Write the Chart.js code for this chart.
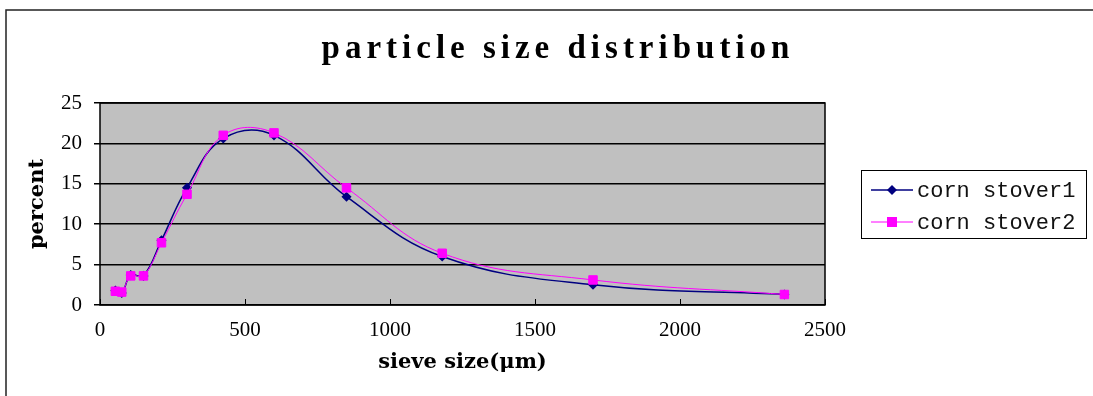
<!DOCTYPE html>
<html>
<head>
<meta charset="utf-8">
<script src="https://cdn.jsdelivr.net/npm/chart.js@4.4.1/dist/chart.umd.min.js"></script>
<style>
  html, body { margin: 0; padding: 0; background: #fff; }
  #wrap { width: 1093px; height: 396px; position: relative; }
</style>
</head>
<body>
<div id="wrap"><canvas id="psd"></canvas></div>
<script>
// ================= DATA =================
const chartTitle = "particle size distribution";
const xTitle = "sieve size(\u03bcm)";
const yTitle = "percent";

const sieveSize = [53, 75, 106, 150, 212, 300, 425, 600, 850, 1180, 1700, 2360];
const stover1 = [1.8, 1.5, 3.7, 3.6, 8.0, 14.5, 20.6, 21.0, 13.4, 6.0, 2.5, 1.3];
const stover2 = [1.7, 1.6, 3.6, 3.6, 7.7, 13.7, 21.0, 21.3, 14.5, 6.4, 3.1, 1.3];

const seriesNames = ["corn stover1", "corn stover2"];
const xTicks = [0, 500, 1000, 1500, 2000, 2500];
const yTicks = [0, 5, 10, 15, 20, 25];

const tickFont = { family: "Liberation Serif", size: 21 };
const axisTitleFont = { family: "DejaVu Serif", size: 21, weight: "bold" };


// ================= FRAME + PLOT BACKGROUND =================
const framePlugin = {
  id: "frame",
  beforeDraw(chart) {
    const { ctx, chartArea: a } = chart;
    ctx.save();
    ctx.fillStyle = "#fff";
    ctx.fillRect(0, 0, chart.width, chart.height);
    ctx.strokeStyle = "#222";
    ctx.lineWidth = 1.5;
    ctx.strokeRect(6, 10, chart.width + 10, chart.height + 10);
    ctx.fillStyle = "#c0c0c0";
    ctx.fillRect(a.left, a.top, a.right - a.left, a.bottom - a.top);
    ctx.restore();
  },
  afterDatasetsDraw(chart) {
    const { ctx, chartArea: a, scales } = chart;
    ctx.save();
    ctx.strokeStyle = "#000";
    ctx.lineWidth = 1.5;
    ctx.strokeRect(a.left, a.top, a.right - a.left, a.bottom - a.top);
    // small inward ticks on the x axis
    ctx.lineWidth = 1;
    xTicks.forEach(v => {
      const x = Math.round(scales.x.getPixelForValue(v)) + 0.5;
      ctx.beginPath();
      ctx.moveTo(x, a.bottom);
      ctx.lineTo(x, a.bottom - 6);
      ctx.stroke();
    });
    ctx.restore();
  }
};


// ================= TITLE =================
const titlePlugin = {
  id: "bigTitle",
  afterDraw(chart) {
    const { ctx } = chart;
    ctx.save();
    ctx.font = "bold 33px 'Liberation Serif'";
    ctx.letterSpacing = "5px";
    ctx.fillStyle = "#000";
    ctx.textAlign = "center";
    ctx.textBaseline = "middle";
    ctx.fillText(chartTitle, 558, 49);
    ctx.restore();
  }
};


// ================= LEGEND BOX =================
const legendPlugin = {
  id: "boxLegend",
  afterDraw(chart) {
    const { ctx } = chart;
    const box = { x: 861.5, y: 170.5, w: 225, h: 68 };
    ctx.save();
    ctx.fillStyle = "#fff";
    ctx.fillRect(box.x, box.y, box.w, box.h);
    ctx.strokeStyle = "#000";
    ctx.lineWidth = 1;
    ctx.strokeRect(box.x, box.y, box.w, box.h);

    ctx.font = "22px 'Liberation Mono'";
    ctx.textBaseline = "middle";
    chart.data.datasets.forEach((ds, i) => {
      const y = 190 + i * 32;
      ctx.strokeStyle = ds.borderColor;
      ctx.lineWidth = ds.borderWidth;
      ctx.beginPath();
      ctx.moveTo(871, y);
      ctx.lineTo(913, y);
      ctx.stroke();
      ctx.fillStyle = ds.pointBackgroundColor;
      if (ds.pointStyle === "rect") {
        ctx.fillRect(887, y - 5, 10, 10);
      } else {
        ctx.beginPath();
        ctx.moveTo(892, y - 5);
        ctx.lineTo(897, y);
        ctx.lineTo(892, y + 5);
        ctx.lineTo(887, y);
        ctx.closePath();
        ctx.fill();
      }
      ctx.fillStyle = "#111";
      ctx.fillText(ds.label, 917, y + 1);
    });
    ctx.restore();
  }
};


// ================= CHART =================
const points = (ys) => sieveSize.map((x, i) => ({ x, y: ys[i] }));

new Chart(document.getElementById("psd"), {
  type: "line",
  data: {
    datasets: [
      {
        label: seriesNames[0],
        data: points(stover1),
        borderColor: "#000080",
        borderWidth: 1.5,
        pointStyle: "rectRot",
        pointRadius: 4,
        pointBackgroundColor: "#000080",
        pointBorderColor: "#000080",
        tension: 0.4,
        order: 1
      },
      {
        label: seriesNames[1],
        data: points(stover2),
        borderColor: "#ff00ff",
        borderWidth: 1,
        pointStyle: "rect",
        pointRadius: 6,
        pointBackgroundColor: "#ff00ff",
        pointBorderColor: "#ff00ff",
        tension: 0.4,
        order: 0
      }
    ]
  },
  options: {
    responsive: true,
    maintainAspectRatio: false,
    animation: false,
    layout: { padding: { left: 0, top: 103, right: 268, bottom: 0 } },
    plugins: {
      legend: { display: false },
      tooltip: { enabled: false },
      title: { display: false }
    },
    scales: {
      x: {
        type: "linear",
        min: 0,
        max: 2500,
        afterBuildTicks: s => { s.ticks = xTicks.map(v => ({ value: v })); },
        afterFit: s => { s.height = 91; },
        grid: { display: false, drawTicks: false },
        border: { display: false },
        ticks: {
          color: "#000",
          font: tickFont,
          padding: 13,
          maxRotation: 0,
          callback: v => String(v)
        },
        title: {
          display: true,
          text: xTitle,
          color: "#000",
          font: axisTitleFont,
          padding: { top: 0, bottom: 21 }
        }
      },
      y: {
        min: 0,
        max: 25,
        afterBuildTicks: s => { s.ticks = yTicks.map(v => ({ value: v })); },
        afterFit: s => { s.width = 100; },
        grid: { color: "#000", lineWidth: 1.5, tickLength: 6, drawTicks: true },
        border: { display: false },
        ticks: { color: "#000", font: tickFont, padding: 12 },
        title: {
          display: true,
          text: yTitle,
          color: "#000",
          font: axisTitleFont,
          padding: { top: 25, bottom: 0 }
        }
      }
    }
  },
  plugins: [framePlugin, titlePlugin, legendPlugin]
});
</script>
</body>
</html>
